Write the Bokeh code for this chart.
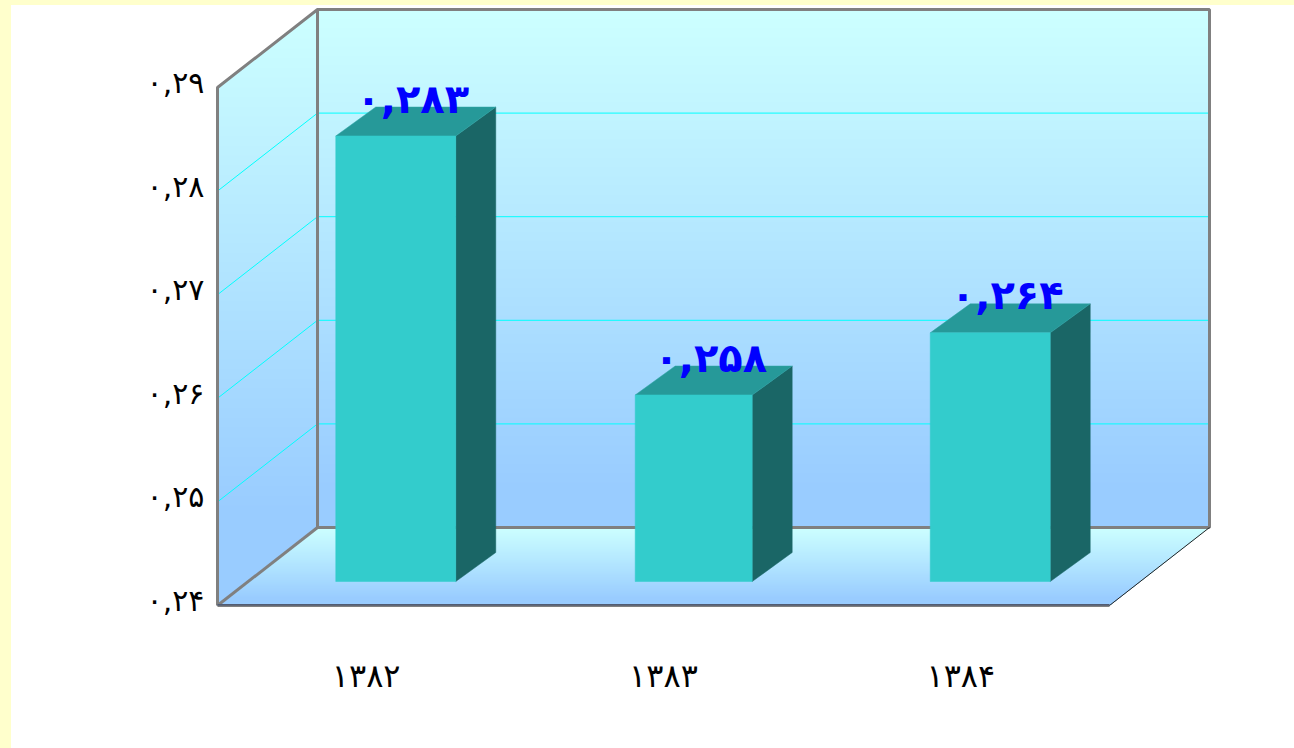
from bokeh.plotting import figure
from bokeh.embed import file_html
from bokeh.resources import INLINE
from bokeh.models import FixedTicker, Range1d
from bokeh.core.properties import value

# ---- data ----
categories = ["۱۳۸۲", "۱۳۸۳", "۱۳۸۴"]
values = [0.283, 0.258, 0.264]
value_labels = ["۰,۲۸۳", "۰,۲۵۸", "۰,۲۶۴"]
y_ticks = [0.24, 0.25, 0.26, 0.27, 0.28, 0.29]
y_tick_labels = ["۰,۲۴", "۰,۲۵", "۰,۲۶", "۰,۲۷", "۰,۲۸", "۰,۲۹"]

# ---- scale & projection ----
PX_X = 297.33          # pixels per category
PX_Y = 10360.0         # pixels per unit of value
Y0, Y1 = 0.24, 0.29
N = len(categories)
DX = 100 / PX_X        # wall depth
DY = 78 / PX_Y
PAD = 4
LEFT = 217
LABEL_LIFT = 5

y_start = Y0 - PAD / PX_Y
y_end = Y0 + (596 + PAD) / PX_Y
p = figure(width=1294, height=748, output_backend="svg", toolbar_location=None,
           x_range=Range1d(-PAD / PX_X, (992 + PAD) / PX_X),
           y_range=Range1d(y_start, y_end),
           min_border_left=LEFT - PAD, min_border_right=1294 - LEFT - 992 - PAD,
           min_border_top=9 - PAD, min_border_bottom=143 - PAD,
           background_fill_color=None, border_fill_color=None, outline_line_color=None)
p.extra_y_ranges = {"labels": Range1d(y_start - LABEL_LIFT / PX_Y, y_end - LABEL_LIFT / PX_Y)}
p.styles = {"position": "fixed", "left": "0", "top": "0",
            "background": "linear-gradient(#FFFFCC,#FFFFCC) 0 0/11px 100% no-repeat,"
                          "linear-gradient(#FFFFCC,#FFFFCC) 0 0/100% 5px no-repeat,#ffffff"}
p.grid.visible = False


def mix(t):
    t = max(0.0, min(1.0, t))
    return "#%02x%02x%02x" % (round(0xCC - 0x33 * t), round(0xFF - 0x33 * t), 0xFF)


STEPS = 52
YTOP = Y1 + DY
YBOT = Y0 + DY

# left wall gradient
xs, ys, cs = [], [], []
for k in range(STEPS):
    t = k / (STEPS - 1)
    y = YTOP - t * (YTOP - Y0 - 100 / PX_Y)
    x_top = DX * (y - Y1) / DY if y > Y1 else 0
    xs.append([x_top, DX, DX, 0] + ([0] if y > Y1 else []))
    ys.append([y, y, YBOT, Y0] + ([Y1] if y > Y1 else []))
    cs.append(mix(t))
p.patches(xs, ys, fill_color=cs, line_color=None)

# back wall gradient
xs, ys, cs = [], [], []
for k in range(STEPS):
    t = k / (STEPS - 1)
    y = YTOP - t * (YTOP - YBOT - 45 / PX_Y)
    xs.append([DX, DX + N, DX + N, DX])
    ys.append([y, y, YBOT, YBOT])
    cs.append(mix(t))
p.patches(xs, ys, fill_color=cs, line_color=None)

# floor gradient
xs, ys, cs = [], [], []
for k in range(STEPS):
    t = k / (STEPS - 1)
    y = YBOT - t * DY * 0.9
    d = (y - Y0) / DY
    xs.append([d * DX, N + d * DX, N, 0])
    ys.append([y, y, Y0, Y0])
    cs.append(mix(t))
p.patches(xs, ys, fill_color=cs, line_color=None)

# grid lines
for v in y_ticks[1:-1]:
    p.line([0, DX, DX + N], [v, v + DY, v + DY], line_color="#00FFFF", line_width=1)

# frame lines
GRAY = "#808080"
p.line([0, 0, DX, DX + N, DX + N, DX, DX], [Y0, Y1, YTOP, YTOP, YBOT, YBOT, YTOP],
       line_color=GRAY, line_width=3)
p.line([0, DX], [Y0, YBOT], line_color=GRAY, line_width=3)
p.line([0, N], [Y0, Y0], line_color=GRAY, line_width=3)
p.line([0, N], [Y0 + 0.6 / PX_Y, Y0 + 0.6 / PX_Y], line_color="#33466b", line_width=1)
p.line([N, N + DX], [Y0, YBOT], line_color="#222222", line_width=1)

# bars
FRONT_D = 24 / 78       # depth of a bar's front plane
BAR_DX = 40 / PX_X
BAR_DY = 29 / PX_Y
bar_width = [120 / PX_X, 117 / PX_X, 120 / PX_X]
bar_shift = [29.6 / PX_X, 30.2 / PX_X, 29.4 / PX_X]
for i, v in enumerate(values):
    c = i + 0.5 + bar_shift[i]
    w = bar_width[i]
    l, r = c - w / 2, c + w / 2
    b = Y0 + FRONT_D * DY
    t = v + FRONT_D * DY
    p.patch([r, r + BAR_DX, r + BAR_DX, r], [b, b + BAR_DY, t + BAR_DY, t],
            fill_color="#1A6666", line_color="#1A6666", line_width=0.5)
    p.patch([l, r, r + BAR_DX, l + BAR_DX], [t, t, t + BAR_DY, t + BAR_DY],
            fill_color="#269999", line_color="#2FA5A5", line_width=0.5)
    p.patch([l, r, r, l], [b, b, t, t], fill_color="#33CCCC", line_color="#33CCCC", line_width=0.5)
    p.text([c + BAR_DX / 2], [t + BAR_DY / 2], text=[value_labels[i]],
           text_font=value("DejaVu Sans"), text_font_style="bold", text_font_size="40px",
           text_color="#0000FF", text_align="center", text_baseline="alphabetic",
           x_offset=-3, y_offset=-23)

# axes
xa = p.xaxis[0]
xa.ticker = FixedTicker(ticks=[i + 0.5 for i in range(N)])
xa.major_label_overrides = {i + 0.5: categories[i] for i in range(N)}
ya = p.yaxis[0]
ya.y_range_name = "labels"
ya.ticker = FixedTicker(ticks=y_ticks)
ya.major_label_overrides = dict(zip(y_ticks, y_tick_labels))
for a in (xa, ya):
    a.axis_line_color = None
    a.major_tick_line_color = None
    a.minor_tick_line_color = None
    a.major_label_text_font = "DejaVu Sans"
    a.major_label_text_color = "#000000"
xa.major_label_text_font_size = "32px"
ya.major_label_text_font_size = "30px"
xa.major_label_standoff = 41
ya.major_label_standoff = 3

open("out.html", "w").write(file_html(p, INLINE))
